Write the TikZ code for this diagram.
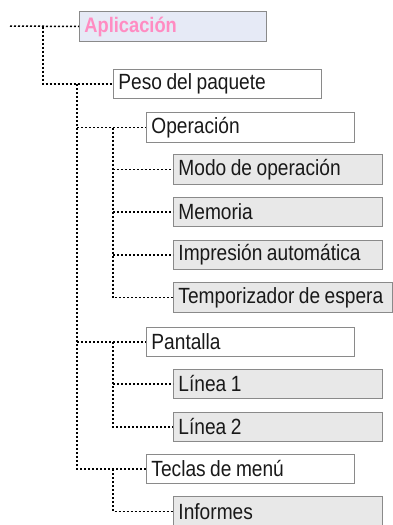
\documentclass[tikz,border=0pt]{standalone}
\usepackage{fontspec}
\setmainfont{Liberation Sans}[FakeStretch=0.87, WordSpace=0.85]
\definecolor{boxline}{HTML}{8A8A8A}
\definecolor{greyfill}{HTML}{E8E8E8}
\definecolor{appfill}{HTML}{E6EAF6}
\definecolor{apppink}{HTML}{FF8CC2}
\newcommand{\boxtext}[2]{\makebox[#1pt][l]{#2}}
\begin{document}
\begin{tikzpicture}[x=1pt,y=-1pt,
  menubox/.style={draw=boxline, line width=0.9pt, anchor=west, minimum height=29.5pt,
    inner xsep=5pt, inner ysep=0pt, font=\fontsize{22}{24}\selectfont,
    text=black!90},
  whitebox/.style={menubox, fill=white},
  greybox/.style={menubox, fill=greyfill},
  appbox/.style={menubox, fill=appfill, text=apppink, font=\fontsize{21}{23}\selectfont\bfseries},
  dotline/.style={line width=1.5pt, dash pattern=on 2pt off 2pt, black}
]
\useasboundingbox (0,0) rectangle (393,525);
\clip (0,0) rectangle (393,525);

% column coordinates
\coordinate (c1) at (43,0);
\coordinate (c2) at (77,0);
\coordinate (c3) at (113,0);
\coordinate (start) at (10,26);

% nodes
\node[appbox] (app) at (79,26.5) {\boxtext{177}{Aplicación}};
\node[whitebox] (peso) at (113,84) {\boxtext{198}{Peso del paquete}};
\node[whitebox] (oper) at (146,127.5) {\boxtext{198}{Operación}};
\node[greybox] (modo) at (173,169.5) {\boxtext{199}{Modo de operación}};
\node[greybox] (mem) at (173,212) {\boxtext{199}{Memoria}};
\node[greybox] (impr) at (173,255) {\boxtext{199}{Impresión automática}};
\node[greybox] (temp) at (173,297.5) {\boxtext{209}{Temporizador de espera}};
\node[whitebox] (pant) at (146,342) {\boxtext{198}{Pantalla}};
\node[greybox] (lin1) at (173,384) {\boxtext{199}{Línea 1}};
\node[greybox] (lin2) at (173,427) {\boxtext{199}{Línea 2}};
\node[whitebox] (tecl) at (146,469) {\boxtext{198}{Teclas de menú}};
\node[greybox] (info) at (173,511.5) {\boxtext{199}{Informes}};

% connectors
\draw[dotline] (start) -- (app.west);
\draw[dotline] (app.west -| c1) |- (peso.west);

\draw[dotline] (peso.west -| c2) |- (tecl.west);
\draw[dotline] (oper.west -| c2) -- (oper.west);
\draw[dotline] (pant.west -| c2) -- (pant.west);

\draw[dotline] (oper.west -| c3) |- (temp.west);
\draw[dotline] (modo.west -| c3) -- (modo.west);
\draw[dotline] (mem.west -| c3) -- (mem.west);
\draw[dotline] (impr.west -| c3) -- (impr.west);

\draw[dotline] (pant.west -| c3) |- (lin2.west);
\draw[dotline] (lin1.west -| c3) -- (lin1.west);

\draw[dotline] (tecl.west -| c3) |- (info.west);
\end{tikzpicture}
\end{document}
